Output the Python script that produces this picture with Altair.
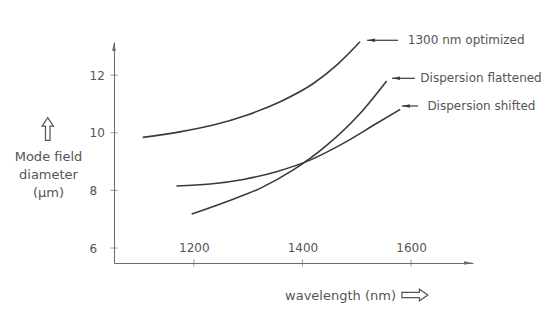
import altair as alt
import pandas as pd

# ---- data ----
series_names = ["1300 nm optimized", "Dispersion flattened", "Dispersion shifted"]
wl_opt = [1106, 1174, 1236, 1297, 1358, 1420, 1463, 1506]
mfd_opt = [9.84, 10.03, 10.27, 10.61, 11.07, 11.71, 12.35, 13.16]
wl_flat = [1196, 1260, 1322, 1383, 1445, 1506, 1555]
mfd_flat = [7.18, 7.61, 8.07, 8.71, 9.57, 10.67, 11.80]
wl_shift = [1168, 1230, 1291, 1352, 1414, 1475, 1537, 1580]
mfd_shift = [8.15, 8.22, 8.38, 8.65, 9.05, 9.63, 10.33, 10.81]

x_ticks = [1200, 1400, 1600]
y_ticks = [6, 8, 10, 12]
x_domain = [1053, 1714]
y_domain = [5.48, 13.15]

# annotation arrows: tip x, tail x, y, text x
ann_tip = [1519, 1565, 1583]
ann_tail = [1576, 1607, 1613]
ann_y = [13.21, 11.89, 10.93]
ann_text_x = [1594, 1617, 1630]

# hollow arrow symbols next to axis titles (data coordinates)
up_arrow_pos = [931, 10.13]
right_arrow_pos = [1607, 4.37]

FONT = "DejaVu Sans"
TXT = "#555555"
LINE = "#3a3a3a"
AX = "#6a6a6a"

rows = []
for name, xs, ys in zip(series_names, [wl_opt, wl_flat, wl_shift], [mfd_opt, mfd_flat, mfd_shift]):
    for a, b in zip(xs, ys):
        rows.append({"series": name, "x": a, "y": b})
curves = pd.DataFrame(rows)

xscale = alt.Scale(domain=x_domain, nice=False, zero=False)
yscale = alt.Scale(domain=y_domain, nice=False, zero=False)

x_axis = alt.Axis(values=x_ticks, format="d", ticks=False, grid=False, domainColor=AX, domainWidth=1,
                  labelPadding=-16, labelBaseline="middle", labelFont=FONT, labelFontSize=12,
                  labelColor=TXT, labelFlush=False,
                  title="wavelength (nm)", titleFont=FONT, titleFontSize=13, titleFontWeight="normal",
                  titleColor=TXT, titleX=226, titleY=32, titleAlign="center", titleBaseline="middle")
y_axis = alt.Axis(values=y_ticks, ticks=False, grid=False, domainColor=AX, domainWidth=1,
                  labelAlign="left", labelPadding=25, labelBaseline="middle", labelFont=FONT,
                  labelFontSize=12, labelColor=TXT,
                  title=["Mode field", "diameter", "(\u03bcm)"], titleAngle=0, titleFont=FONT,
                  titleFontSize=13, titleFontWeight="normal", titleColor=TXT, titleX=-66, titleY=108,
                  titleAlign="center", titleBaseline="top", titleLineHeight=18)


def X(field):
    return alt.X(field + ":Q", scale=xscale, axis=x_axis)


def Y(field):
    return alt.Y(field + ":Q", scale=yscale, axis=y_axis)


lines = alt.Chart(curves).mark_line(interpolate="monotone", color=LINE, strokeWidth=1.6).encode(
    x=X("x"), y=Y("y"), detail="series:N",
)

ytick_df = pd.DataFrame({"x": [x_domain[0]] * len(y_ticks), "y": y_ticks})
xtick_df = pd.DataFrame({"x": x_ticks, "y": [y_domain[0]] * len(x_ticks)})

yt = alt.Chart(ytick_df).mark_tick(orient="horizontal", size=7, thickness=1, color=AX).encode(
    x=X("x"), y=Y("y"))
xt = alt.Chart(xtick_df).mark_tick(orient="vertical", size=7, thickness=1, color=AX).encode(
    x=X("x"), y=Y("y"))

# axis arrowheads
up_head = alt.Chart(pd.DataFrame({"x": [x_domain[0]], "y": [y_domain[1]]})).mark_point(
    shape="M0,-1 L-0.4,1 L0.4,1 Z", size=81, filled=True, color=AX, opacity=1, yOffset=4.5
).encode(x=X("x"), y=Y("y"))
right_head = alt.Chart(pd.DataFrame({"x": [x_domain[1]], "y": [y_domain[0]]})).mark_point(
    shape="M1,0 L-1,-0.4 L-1,0.4 Z", size=81, filled=True, color=AX, opacity=1, xOffset=-4.5
).encode(x=X("x"), y=Y("y"))

ann = pd.DataFrame({"tip": ann_tip, "tail": ann_tail, "y": ann_y, "tx": ann_text_x, "label": series_names})
ann_rule = alt.Chart(ann).mark_rule(color=LINE, strokeWidth=1.2).encode(
    x=X("tip"), x2="tail:Q", y=Y("y"))
ann_head = alt.Chart(ann).mark_point(shape="M-1,0 L1,-0.45 L1,0.45 Z", size=64, filled=True,
                                     color=LINE, opacity=1, xOffset=4).encode(
    x=X("tip"), y=Y("y"))
ann_text = alt.Chart(ann).mark_text(align="left", baseline="middle", font=FONT, fontSize=12,
                                    color=TXT).encode(
    x=X("tx"), y=Y("y"), text="label:N")

up_arrow = alt.Chart(pd.DataFrame({"x": [up_arrow_pos[0]], "y": [up_arrow_pos[1]]})).mark_point(
    shape="M0,-1 L0.5,-0.25 L0.2,-0.25 L0.2,1 L-0.2,1 L-0.2,-0.25 L-0.5,-0.25 Z",
    size=520, filled=False, color=TXT, strokeWidth=1.2, opacity=1
).encode(x=X("x"), y=Y("y"))
right_arrow = alt.Chart(pd.DataFrame({"x": [right_arrow_pos[0]], "y": [right_arrow_pos[1]]})).mark_point(
    shape="M1,0 L0.35,-0.45 L0.35,-0.2 L-1,-0.2 L-1,0.2 L0.35,0.2 L0.35,0.45 Z",
    size=676, filled=False, color=TXT, strokeWidth=1.2, opacity=1
).encode(x=X("x"), y=Y("y"))

chart = alt.layer(lines, yt, xt, up_head, right_head, ann_rule, ann_head, ann_text,
                  up_arrow, right_arrow).properties(
    width=359, height=221,
    autosize=alt.AutoSizeParams(type="none"),
    padding={"left": 106, "top": 34, "right": 71, "bottom": 42},
    background="white",
).configure_view(stroke=None)

chart.save("out.html", embed_options={"renderer": "svg", "actions": False})
